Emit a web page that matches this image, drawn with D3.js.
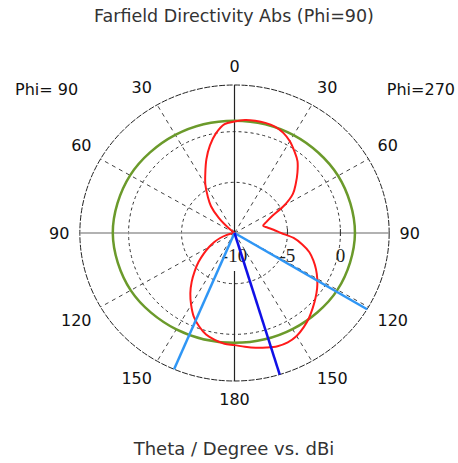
<!DOCTYPE html>
<html>
<head>
<meta charset="utf-8">
<script src="https://cdn.jsdelivr.net/npm/d3@7"></script>
<style>
  body { margin: 0; background: #fff; }
  svg { display: block; }
</style>
</head>
<body>
<div id="chart"></div>
<script>
// Directivity (dBi), screen angle clockwise from top, 5 deg steps
// (0..180 = Phi=270 side, 180..360 = Phi=90 side)
const redAngles = d3.range(0, 360, 5);
const redValues = [
  1.0, 1.18, 1.24, 1.25, 1.16, 0.9, 0.45, -0.15, -0.75, -1.6, -2.45, -3.27,
  -4.58, -6.1, -6.79, -7.2, -6.85, -6.3, -5.6, -4.4, -3.5, -2.68, -2.08, -1.51,
  -0.98, -0.48, -0.02, 0.45, 0.94, 1.37, 1.73, 1.9, 1.88, 1.7, 1.5, 1.27,
  1.06, 0.97, 0.71, 0.37, -0.21, -0.9, -1.81, -2.73, -3.71, -4.69, -5.58, -6.46,
  -7.23, -7.9, -8.56, -9.2, -9.7, -10, -10, -10, -10, -10, -10, -10,
  -10, -10, -9.4, -7.9, -6.55, -5.6, -4.5, -3.48, -2.25, -1.05, 0.0, 0.78
];
const greenAngles = d3.range(0, 360, 30);
const greenValues = [1.08, 1.15, 1.29, 1.37, 1.22, 0.95, 0.83, 0.98, 1.31, 1.49, 1.38, 1.18];

const mainLobe = [163];
const beamEdges = [121, 203];

const spokeAngles = d3.range(0, 360, 30);
const angleLabels = ["0", "30", "60", "90", "120", "150", "180", "150", "120", "90", "60", "30"];
const radialTicks = [-10, -5, 0];
const rangeMin = -10;
const rangeMax = 4.6;

const width = 458;
const height = 463;
const cx = 234.5;
const cy = 233;
const outerR = 148;
const sx = 1.045; // plot is a little wider than tall

const svg = d3.select("#chart")
  .append("svg")
  .attr("width", width)
  .attr("height", height)
  .style("font-family", "'DejaVu Sans', sans-serif");

const r = d3.scaleLinear().domain([rangeMin, rangeMax]).range([0, outerR]).clamp(true);

function project(deg, rad) {
  const a = deg * Math.PI / 180;
  return [cx + Math.sin(a) * rad * sx, cy - Math.cos(a) * rad];
}

// grid
const grid = svg.append("g");

grid.selectAll(".ring")
  .data(radialTicks.filter(v => v > rangeMin))
  .enter().append("ellipse")
  .attr("cx", cx).attr("cy", cy)
  .attr("rx", d => r(d) * sx).attr("ry", d => r(d))
  .attr("fill", "none")
  .attr("stroke", "#333")
  .attr("stroke-width", 1)
  .attr("stroke-dasharray", "3,3");

grid.selectAll(".spoke")
  .data(spokeAngles.filter(a => a % 90 !== 0))
  .enter().append("line")
  .attr("x1", cx).attr("y1", cy)
  .attr("x2", d => project(d, outerR)[0])
  .attr("y2", d => project(d, outerR)[1])
  .attr("stroke", "#444")
  .attr("stroke-width", 1)
  .attr("stroke-dasharray", "4,4");

grid.append("ellipse")
  .attr("cx", cx).attr("cy", cy)
  .attr("rx", outerR * sx).attr("ry", outerR)
  .attr("fill", "none")
  .attr("stroke", "#222")
  .attr("stroke-width", 1)
  .attr("stroke-dasharray", "6,1.5");

// axes
grid.append("line")
  .attr("x1", cx - outerR * sx).attr("x2", cx + outerR * sx)
  .attr("y1", cy).attr("y2", cy)
  .attr("stroke", "#999").attr("stroke-width", 1.5);

grid.append("line")
  .attr("x1", cx).attr("x2", cx)
  .attr("y1", cy - outerR).attr("y2", cy)
  .attr("stroke", "#222").attr("stroke-width", 1.2);

grid.append("line")
  .attr("x1", cx).attr("x2", cx)
  .attr("y1", cy + 38).attr("y2", cy + outerR)
  .attr("stroke", "#222").attr("stroke-width", 1.2);

grid.selectAll(".tick")
  .data(radialTicks.filter(v => v > rangeMin))
  .enter().append("line")
  .attr("x1", d => cx + r(d) * sx).attr("x2", d => cx + r(d) * sx)
  .attr("y1", cy - 4).attr("y2", cy + 3)
  .attr("stroke", "#333");

// radial labels
svg.selectAll(".rlabel")
  .data(radialTicks)
  .enter().append("text")
  .attr("x", d => cx + r(d) * sx)
  .attr("y", cy + 29)
  .attr("text-anchor", "middle")
  .style("font-family", "'Liberation Serif', serif")
  .style("font-size", "19px")
  .attr("fill", "#222")
  .text(d => d);

// angle labels, pushed out by half their box
const labelR = 158;
svg.selectAll(".alabel")
  .data(spokeAngles)
  .enter().append("text")
  .attr("text-anchor", "middle")
  .attr("dominant-baseline", "central")
  .style("font-size", "16px")
  .attr("fill", "#111")
  .text((d, i) => angleLabels[i])
  .each(function (d) {
    const box = this.getBBox();
    const a = d * Math.PI / 180;
    const s = Math.sin(a), c = Math.cos(a);
    const [px, py] = project(d, labelR);
    const ox = Math.abs(s) < 1e-6 ? 0 : Math.sign(s) * box.width / 2;
    const oy = Math.abs(c) < 1e-6 ? 0 : -Math.sign(c) * box.height / 2.2;
    d3.select(this).attr("x", px + ox).attr("y", py + oy);
  });

// curves
const line = d3.line()
  .x(d => project(d[0], r(d[1]))[0])
  .y(d => project(d[0], r(d[1]))[1])
  .curve(d3.curveCatmullRomClosed.alpha(0.5));

svg.append("path")
  .datum(greenAngles.map((a, i) => [a, greenValues[i]]))
  .attr("d", line)
  .attr("fill", "none")
  .attr("stroke", "#6b9a2b")
  .attr("stroke-width", 2.5);

svg.append("path")
  .datum(redAngles.map((a, i) => [a, redValues[i]]))
  .attr("d", line)
  .attr("fill", "none")
  .attr("stroke", "#ff1a1a")
  .attr("stroke-width", 2);

// beamwidth and main lobe direction
svg.selectAll(".beam")
  .data(beamEdges)
  .enter().append("line")
  .attr("x1", cx).attr("y1", cy)
  .attr("x2", d => project(d, outerR)[0])
  .attr("y2", d => project(d, outerR)[1])
  .attr("stroke", "#2f96f5")
  .attr("stroke-width", 2.5);

svg.selectAll(".lobe")
  .data(mainLobe)
  .enter().append("line")
  .attr("x1", cx).attr("y1", cy)
  .attr("x2", d => project(d, outerR)[0])
  .attr("y2", d => project(d, outerR)[1])
  .attr("stroke", "#1010e6")
  .attr("stroke-width", 2.5);

// titles
svg.append("text")
  .attr("x", width / 2 + 5).attr("y", 22)
  .attr("text-anchor", "middle")
  .style("font-size", "17.5px")
  .attr("fill", "#333")
  .text("Farfield Directivity Abs (Phi=90)");

svg.append("text")
  .attr("x", 15).attr("y", 95)
  .style("font-size", "16px")
  .attr("fill", "#111")
  .text("Phi= 90");

svg.append("text")
  .attr("x", width - 3).attr("y", 95)
  .attr("text-anchor", "end")
  .style("font-size", "16px")
  .attr("fill", "#111")
  .text("Phi=270");

svg.append("text")
  .attr("x", width / 2 + 5).attr("y", 455)
  .attr("text-anchor", "middle")
  .style("font-size", "18px")
  .attr("fill", "#333")
  .text("Theta / Degree vs. dBi");
</script>
</body>
</html>
